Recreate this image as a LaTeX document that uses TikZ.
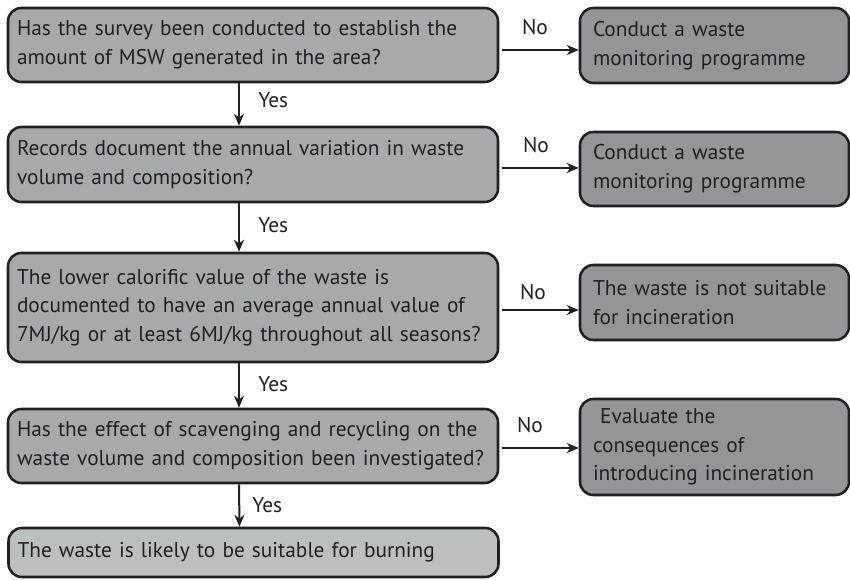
\documentclass[tikz,border=0pt]{standalone}
\usepackage{fontspec}
\setmainfont{PT Sans}
\usetikzlibrary{arrows.meta}
\definecolor{ink}{HTML}{231F20}
\definecolor{qfill}{HTML}{A7A9AC}
\definecolor{afill}{HTML}{939598}
\definecolor{endfill}{HTML}{BCBEC0}

\begin{document}
\begin{tikzpicture}[x=0.75pt,y=-0.75pt,
  box/.style={draw=ink, line width=1.9pt, rounded corners=10pt, inner sep=0pt,
    align=left, text=ink, font=\fontsize{16}{21.5}\selectfont},
  qbox/.style={box, fill=qfill, minimum width=367.5pt, text width=354pt},
  abox/.style={box, fill=afill, minimum width=201.75pt, text width=182.25pt},
  arr/.style={draw=ink, line width=1.5pt, -{Stealth[length=9pt,width=7.5pt]}},
  lbl/.style={text=ink, font=\fontsize{16}{18}\selectfont, inner sep=0pt}]
\useasboundingbox (0,0) rectangle (850,580);

% question column
\node[qbox, minimum height=55.5pt] (q1) at (253,45)
  {Has the survey been conducted to establish the\\amount of MSW generated in the area?};
\node[qbox, minimum height=56.25pt] (q2) at (253,164.5)
  {Records document the annual variation in waste\\volume and composition?};
\node[qbox, minimum height=81.75pt] (q3) at (253,307.5)
  {The lower calorific value of the waste is\\documented to have an average annual value of\\\mbox{7MJ/kg or at least 6MJ/kg throughout all seasons?}};
\node[qbox, minimum height=55.5pt] (q4) at (253,446)
  {\mbox{Has the effect of scavenging and recycling on the}\\\mbox{waste volume and composition been investigated?}};
\node[qbox, fill=endfill, minimum height=36.75pt] (q5) at (253.5,552.5)
  {The waste is likely to be suitable for burning};

% action column
\node[abox, minimum height=56.25pt] (a1) at (714.5,45.5)
  {Conduct a waste\\monitoring programme};
\node[abox, minimum height=55.5pt] (a2) at (714.5,169)
  {Conduct a waste\\monitoring programme};
\node[abox, minimum height=56.25pt] (a3) at (714.5,302.5)
  {The waste is not suitable\\for incineration};
\node[abox, minimum height=72pt] (a4) at (714.5,447)
  {\ Evaluate the\\consequences of\\introducing incineration};

% "Yes" connectors down the question column
\draw[arr] ([xshift=-10.5pt]q1.south) -- ([xshift=-10.5pt]q2.north);
\draw[arr] ([xshift=-10.5pt]q2.south) -- ([xshift=-10.5pt]q3.north);
\draw[arr] ([xshift=-10.5pt]q3.south) -- ([xshift=-10.5pt]q4.north);
\draw[arr] ([xshift=-10.5pt]q4.south) -- ([xshift=-10.5pt]q5.north);
\node[lbl, anchor=west] (y1) at (258,100) {Yes};
\node[lbl, anchor=west] (y2) at (258,225) {Yes};
\node[lbl, anchor=west] (y3) at (258,384) {Yes};
\node[lbl, anchor=west] (y4) at (252,505) {Yes};

% "No" connectors to the action column
\coordinate (s1) at ([yshift=-3.75pt]q1.east);
\coordinate (s2) at ([yshift=-2.6pt]q2.east);
\coordinate (s3) at ([yshift=-1.9pt]q3.east);
\coordinate (s4) at ([yshift=-1.5pt]q4.east);
\draw[arr, shorten <=2pt] (s1) -- (s1 -| a1.west);
\draw[arr, shorten <=2pt] (s2) -- (s2 -| a2.west);
\draw[arr, shorten <=2pt] (s3) -- (s3 -| a3.west);
\draw[arr, shorten <=2pt] (s4) -- (s4 -| a4.west);
\node[lbl] (n1) at (535,27) {No};
\node[lbl] (n2) at (536,145) {No};
\node[lbl] (n3) at (533,292) {No};
\node[lbl] (n4) at (530,425) {No};
\end{tikzpicture}
\end{document}
